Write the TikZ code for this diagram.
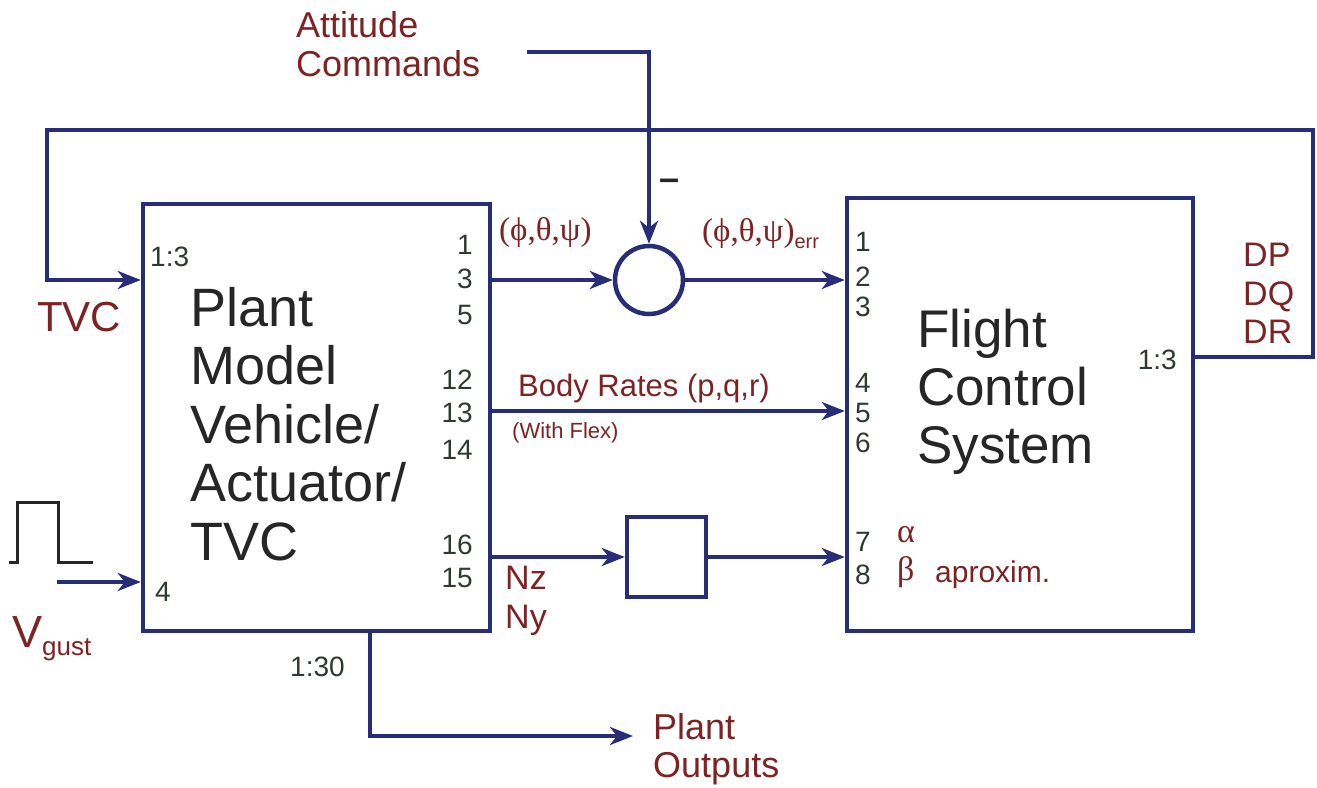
\documentclass[tikz,border=0pt]{standalone}
\usepackage{fontspec}
\setmainfont{Liberation Sans}
\newfontfamily\grk{Liberation Serif}
\usetikzlibrary{arrows.meta}
\definecolor{navy}{RGB}{40,45,120}
\definecolor{dred}{RGB}{125,35,35}
\definecolor{pnum}{RGB}{45,58,48}
\newcommand{\fsz}[1]{\fontsize{#1}{#1}\selectfont}
\newcommand{\fsl}[2]{\fontsize{#1}{#2}\selectfont}
\begin{document}
\begin{tikzpicture}[x=1pt,y=-1pt,
  wire/.style={draw=navy,line width=4.5pt},
  arr/.style={wire,-{Stealth[length=23pt,width=18pt,inset=7pt]}},
  blk/.style={draw=navy,line width=4.5pt,fill=white,inner sep=0pt},
  pn/.style={text=pnum,inner sep=0pt,font=\fsz{28}},
  lbl/.style={text=dred,inner sep=0pt},
  big/.style={inner sep=0pt,align=left,text=black!85}
]
\useasboundingbox (0,0) rectangle (1317,787);
\fill[white] (0,0) rectangle (1317,787);

% blocks
\node[blk,minimum width=347pt,minimum height=427pt] (plant) at (316.5,417.5) {};
\node[blk,minimum width=346pt,minimum height=433pt] (fcs) at (1020,414.5) {};
\node[blk,circle,minimum size=68pt] (sum) at (649,280) {};
\node[blk,minimum width=79pt,minimum height=80pt] (nbox) at (666.5,557) {};

% block texts
\node[big,anchor=north west,font=\fsl{54}{58.5}] (ptxt) at (190,287)
  {Plant\\Model\\Vehicle/\\Actuator/\\TVC};
\node[big,anchor=north west,font=\fsl{53}{58}] (ftxt) at (917,309)
  {Flight\\Control\\System};

% free coordinates
\coordinate (att) at (527,52);
\coordinate (vg) at (57,582);
\coordinate (fbR) at (1313,357);
\coordinate (fbTR) at (1313,130);
\coordinate (fbTL) at (47,130);
\coordinate (fbL) at (47,280);
\coordinate (outC) at (370,736);
\coordinate (outE) at (633,736);

% connectors
\draw[arr] (plant.east |- sum.west) -- (sum.west);
\draw[arr] (sum.east) -- (sum.east -| fcs.west);
\draw[arr] (att) -| (sum.north);
\draw[arr] (plant.east |- 0,411) -- (fcs.west |- 0,411);
\draw[arr] (plant.east |- nbox.west) -- (nbox.west);
\draw[arr] (nbox.east) -- (nbox.east -| fcs.west);
\draw[arr] (fcs.east |- fbR) -- (fbR) -- (fbTR) -- (fbTL) -- (fbL) -- (fbL -| plant.west);
\draw[arr] (plant.south -| outC) -- (outC) -- (outE);
\draw[arr] (vg) -- (vg -| plant.west);

% pulse
\draw[black!85,line width=3pt] (9,562) -- (17,562) -- (17,502) -- (58,502) -- (58,562) -- (93,562);

% labels
\node[lbl,anchor=north west,align=left,font=\fsl{36}{39}] (attl) at (296,11)
  {Attitude\\Commands};
\node[inner sep=0pt,font=\bfseries\fsz{36},text=black!85] (minus) at (670,185) {–};
\node[lbl,anchor=west,font=\grk\fsz{33}] (ang) at (499,232) {(ϕ,θ,ψ)};
\node[lbl,anchor=west,font=\grk\fsz{33}] (angerr) at (702,234) {(ϕ,θ,ψ)\raisebox{-7pt}{\fontspec{Liberation Sans}\fsz{20}err}};
\node[lbl,anchor=west,font=\fsz{31}] (brl) at (518,388) {Body Rates (p,q,r)};
\node[lbl,anchor=west,font=\fsz{22}] (flex) at (512,433) {(With Flex)};
\node[lbl,anchor=north west,align=left,font=\fsl{34}{39}] (nzny) at (505,566)
  {Nz\\Ny};
\node[lbl,anchor=north west,align=left,font=\fsl{36}{38}] (pout) at (653,713)
  {Plant\\Outputs};
\node[lbl,anchor=north west,align=left,font=\fsl{34}{38.5}] (dpqr) at (1243,243)
  {DP\\DQ\\DR};
\node[lbl,anchor=west,font=\fsz{42}] (tvc) at (37,317) {TVC};
\node[lbl,anchor=base west,font=\fsz{45}] (vgl) at (12,647) {V\raisebox{-8pt}{\fsz{26}gust}};
\node[lbl,anchor=west,font=\grk\fsz{34}] (alpha) at (897,535) {α};
\node[lbl,anchor=west,font=\grk\fsz{34}] (beta) at (897,572) {β};
\node[lbl,anchor=base west,font=\fsz{30}] (aprox) at (935,582) {aproxim.};

% port numbers
\node[pn,anchor=west] (p13in) at (150,257) {1:3};
\node[pn,anchor=west] (p4) at (155,592) {4};
\node[pn,anchor=west] (p130) at (290,667) {1:30};
\node[pn,anchor=east] (f13) at (1177,360) {1:3};
\node[pn,anchor=east] (po1) at (473,245) {1};
\node[pn,anchor=east] (po3) at (473,279) {3};
\node[pn,anchor=east] (po5) at (473,315) {5};
\node[pn,anchor=east] (po12) at (473,380) {12};
\node[pn,anchor=east] (po13) at (473,413) {13};
\node[pn,anchor=east] (po14) at (473,450) {14};
\node[pn,anchor=east] (po16) at (473,545) {16};
\node[pn,anchor=east] (po15) at (473,578) {15};
\node[pn,anchor=west] (fi1) at (855,242) {1};
\node[pn,anchor=west] (fi2) at (855,277) {2};
\node[pn,anchor=west] (fi3) at (855,307) {3};
\node[pn,anchor=west] (fi4) at (855,383) {4};
\node[pn,anchor=west] (fi5) at (855,413) {5};
\node[pn,anchor=west] (fi6) at (855,443) {6};
\node[pn,anchor=west] (fi7) at (855,542) {7};
\node[pn,anchor=west] (fi8) at (855,575) {8};
\end{tikzpicture}
\end{document}
